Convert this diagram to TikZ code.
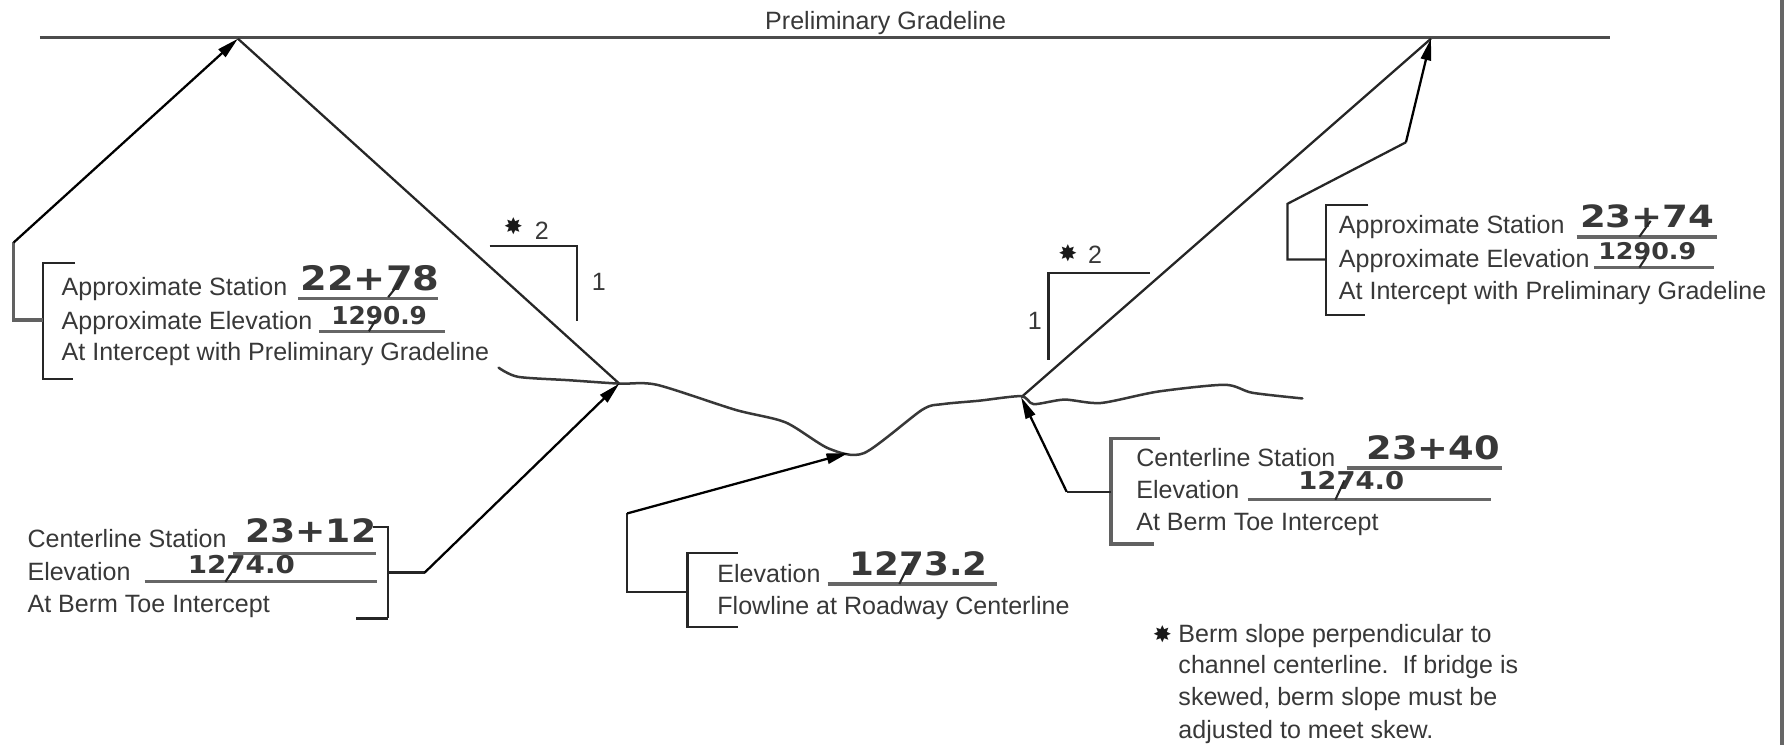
\documentclass[tikz,border=0pt]{standalone}
\usepackage{fontspec}
\usepackage{graphicx}
\setmainfont{Liberation Sans}
\newfontfamily\hwfont{DejaVu Sans}
\usetikzlibrary{arrows.meta}
\newcommand{\hwnum}[3]{\resizebox{#1pt}{#2pt}{\hwfont\bfseries #3}}
\tikzset{
  x=1pt,y=-1pt,
  lbl/.style={anchor=base west,inner sep=0pt,text=black!78,font=\fontsize{22}{26}\selectfont},
  starmark/.style={anchor=center,inner sep=0pt,text=black!90,font=\hwfont\fontsize{20}{22}\selectfont},
  numb/.style={anchor=center,inner sep=0pt,text=black!78},
  wire/.style={draw=black!85,line width=2pt,line join=miter},
  heavy wire/.style={draw=black!62,line width=3pt,line join=miter},
  tip/.style={draw=black,line width=2pt,-{Stealth[length=19pt,width=9pt,inset=0pt]}},
  uline/.style={draw=black!60,line width=3pt},
  tail/.style={draw=black!85,line width=1.8pt},
  ground/.style={draw=black!78,line width=2.2pt,line cap=round}
}
\begin{document}
\begin{tikzpicture}
\useasboundingbox (0,0) rectangle (1568,654);
\fill[white] (0,0) rectangle (1568,654);
\draw[draw=black!60,line width=3.5pt] (1565,0) -- (1565,654);

% grade line
\coordinate (gl) at (35,33); \coordinate (gr) at (1414,33);
\draw[draw=black!70,line width=3pt] (gl) -- (gr);
\node[lbl] (title) at (672,26) {Preliminary Gradeline};

% key points
\coordinate (peakL) at (209,34);
\coordinate (peakR) at (1257,34);
\coordinate (toeL) at (544,337);
\coordinate (toeR) at (897,349);
\coordinate (flow) at (745,398);

% berm slopes
\draw[wire] (peakL) -- (toeL);
\draw[wire] (toeR) -- (peakR);

% ground profile
\draw[ground] plot[smooth,tension=.45] coordinates {(438,323) (455,331) (500,334) (544,337) (577,338) (646,360) (690,371) (728,394) (759,398) (810,360) (828,355) (860,352) (897,348) (908,355) (935,351) (967,354) (1017,344) (1076,338) (1100,345) (1144,350)};

% slope triangles
\coordinate (ta1) at (430,216); \coordinate (ta2) at (507,216); \coordinate (ta3) at (507,282);
\draw[wire] (ta1) -- (ta2) -- (ta3);
\node[starmark] (sa) at (451,199) {✸};
\node[lbl,anchor=center] (sa2) at (476,203) {2};
\node[lbl,anchor=center] (sa1) at (526,248) {1};
\coordinate (tb1) at (1010,240); \coordinate (tb2) at (921,240); \coordinate (tb3) at (921,316);
\draw[wire] (tb1) -- (tb2) -- (tb3);
\node[starmark] (sb) at (938,222) {✸};
\node[lbl,anchor=center] (sb2) at (962,224) {2};
\node[lbl,anchor=center] (sb1) at (909,282) {1};

% Box A
\coordinate (a1) at (66,231); \coordinate (a2) at (38,231); \coordinate (a3) at (38,333); \coordinate (a4) at (64,333);
\coordinate (am) at (38,281); \coordinate (ac1) at (12,281); \coordinate (ac2) at (12,213);
\draw[wire] (a1) -- (a2) -- (a3) -- (a4);
\draw[heavy wire] (am) -- (ac1) -- (ac2);
\draw[tip] (ac2) -- (peakL);
\node[lbl] (at1) at (54,260) {Approximate Station};
\node[lbl] (at2) at (54,289) {Approximate Elevation};
\node[lbl] (at3) at (54,317) {At Intercept with Preliminary Gradeline};
\draw[uline] (262,262) -- (385,262);
\draw[uline] (280,291) -- (391,291);
\node[numb] (an1) at (325,244) {\hwnum{122}{22}{22+78}};
\node[numb] (an2) at (333,277) {\hwnum{84}{16}{1290.9}};
\draw[tail] (353,246) -- (341,261);
\draw[tail] (330,281) -- (324,291);

% Box B
\coordinate (b1) at (1202,180); \coordinate (b2) at (1165,180); \coordinate (b3) at (1165,277); \coordinate (b4) at (1199,277);
\coordinate (bm) at (1165,228); \coordinate (bc1) at (1131,228); \coordinate (bc2) at (1131,179); \coordinate (bc3) at (1235,125);
\draw[wire] (b1) -- (b2) -- (b3) -- (b4);
\draw[wire] (bm) -- (bc1) -- (bc2) -- (bc3);
\draw[tip] (bc3) -- (peakR);
\node[lbl] (bt1) at (1176,205) {Approximate Station};
\node[lbl] (bt2) at (1176,235) {Approximate Elevation};
\node[lbl] (bt3) at (1176,263) {At Intercept with Preliminary Gradeline};
\draw[uline] (1385,208) -- (1508,208);
\draw[uline,line width=2.4pt] (1400,235) -- (1506,235);
\node[numb] (bn1) at (1447,190) {\hwnum{118}{20}{23+74}};
\node[numb] (bn2) at (1447,221) {\hwnum{86}{15}{1290.9}};
\draw[tail] (1450,194) -- (1440,208);
\draw[tail] (1446,226) -- (1440,235);

% Box C
\coordinate (c1) at (328,463); \coordinate (c2) at (341,463); \coordinate (c3) at (341,543); \coordinate (c4) at (313,543);
\coordinate (cm) at (341,503); \coordinate (cc1) at (373,503);
\draw[wire] (c1) -- (c2) -- (c3);
\draw[wire,line width=2.8pt] (c3) -- (c4);
\draw[wire] (cm) -- (cc1);
\draw[tip] (cc1) -- (toeL);
\node[lbl] (ct1) at (24,481) {Centerline Station};
\node[lbl] (ct2) at (24,510) {Elevation};
\node[lbl] (ct3) at (24,538) {At Berm Toe Intercept};
\draw[uline] (205,486) -- (330,486);
\draw[uline] (127,511) -- (331,511);
\node[numb] (cn1) at (273,466) {\hwnum{115}{21}{23+12}};
\node[numb] (cn2) at (212,496) {\hwnum{94}{16}{1274.0}};
\draw[tail] (208,496) -- (198,511);

% Box D
\coordinate (d1) at (648,486); \coordinate (d2) at (604,486); \coordinate (d3) at (604,551); \coordinate (d4) at (648,551);
\coordinate (dm) at (604,520); \coordinate (dc1) at (551,520); \coordinate (dc2) at (551,451);
\draw[wire] (d1) -- (d2) -- (d3) -- (d4);
\draw[wire] (dm) -- (dc1) -- (dc2);
\draw[tip] (dc2) -- (flow);
\node[lbl] (dt1) at (630,512) {Elevation};
\node[lbl] (dt2) at (630,540) {Flowline at Roadway Centerline};
\draw[uline] (727,513) -- (876,513);
\node[numb] (dn1) at (807,495) {\hwnum{121}{21}{1273.2}};
\draw[tail] (799,495) -- (790,513);

% Box E
\coordinate (e1) at (1019,385); \coordinate (e2) at (976,385); \coordinate (e3) at (976,478); \coordinate (e4) at (1014,478);
\coordinate (em) at (976,432); \coordinate (ec1) at (937,432);
\draw[heavy wire] (e1) -- (e2) -- (e3) -- (e4);
\draw[wire] (em) -- (ec1);
\draw[tip] (ec1) -- (toeR);
\node[lbl] (et1) at (998,410) {Centerline Station};
\node[lbl] (et2) at (998,438) {Elevation};
\node[lbl] (et3) at (998,466) {At Berm Toe Intercept};
\draw[uline] (1183,411) -- (1319,411);
\draw[uline] (1096,439) -- (1310,439);
\node[numb] (en1) at (1259,393) {\hwnum{117}{21}{23+40}};
\node[numb] (en2) at (1187,422) {\hwnum{93}{16}{1274.0}};
\draw[tail] (1181,422) -- (1173,439);

% footnote
\node[starmark] (fs) at (1021,557) {✸};
\node[lbl] (f1) at (1035,564) {Berm slope perpendicular to};
\node[lbl] (f2) at (1035,592) {channel centerline.\ \ If bridge is};
\node[lbl] (f3) at (1035,620) {skewed, berm slope must be};
\node[lbl] (f4) at (1035,649) {adjusted to meet skew.};
\end{tikzpicture}
\end{document}
